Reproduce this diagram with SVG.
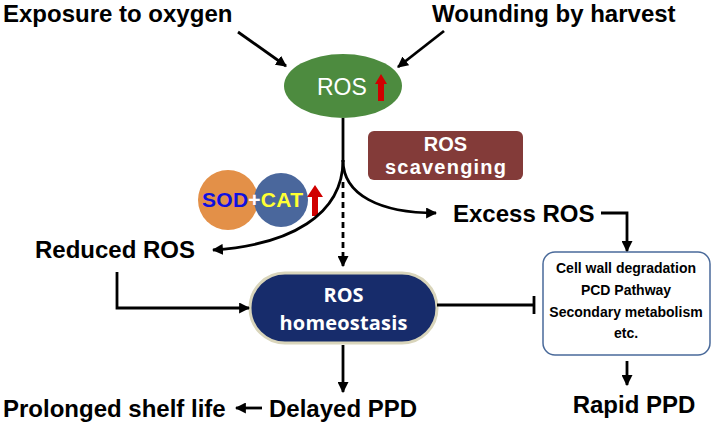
<svg xmlns="http://www.w3.org/2000/svg" width="712" height="426" viewBox="0 0 712 426">
<style>
.t{font-family:"Liberation Sans",Arial,sans-serif;font-weight:bold;fill:#000}
.big{font-size:24px}
.box{font-size:14px;text-anchor:middle}
.ln{fill:none;stroke:#000;stroke-width:2.8}
.wt{fill:#fff}
</style>
<defs>
<marker id="ah" markerWidth="11" markerHeight="11" viewBox="0 0 10 10" refX="9" refY="5" orient="auto" markerUnits="userSpaceOnUse">
<path d="M0,0 L10,5 L0,10 Z" fill="#000"/>
</marker>
</defs>

<g id="exposure"><text class="t big" x="3" y="22">Exposure to oxygen</text></g>
<g id="wounding"><text class="t big" x="432" y="22">Wounding by harvest</text></g>

<g id="ros">
<ellipse cx="343" cy="86" rx="59" ry="32" fill="#4d8b3f"/>
<text x="317" y="95" font-family="Liberation Sans,Arial,sans-serif" font-size="23" fill="#fff">ROS</text>
<path d="M378,101 L378,84 L375,84 L381,74 L387,84 L384,84 L384,101 Z" fill="#d00000"/>
</g>

<g id="scavenging">
<rect x="368" y="131" width="155" height="49" rx="6" fill="#833b39"/>
<text class="t wt" x="445.5" y="151" font-size="20" text-anchor="middle">ROS</text>
<text class="t wt" x="445.5" y="174" font-size="20" text-anchor="middle" textLength="121">scavenging</text>
</g>

<g id="sodcat">
<circle cx="228" cy="200" r="30" fill="#e39048"/>
<circle cx="281" cy="200" r="27" fill="#4a679c"/>
<text class="t" x="202" y="207" font-size="21" textLength="101"><tspan fill="#1010e0">SOD</tspan><tspan fill="#fff">+</tspan><tspan fill="#ffff33">CAT</tspan></text>
<path d="M312,216 L312,197 L307,197 L315,185 L323,197 L318,197 L318,216 Z" fill="#d00000"/>
</g>

<g id="excess"><text class="t big" x="453" y="222">Excess ROS</text></g>
<g id="reduced"><text class="t big" x="35" y="258">Reduced ROS</text></g>

<g id="homeostasis">
<rect x="250" y="273" width="187" height="70" rx="35" fill="#172c6b" stroke="#d9d5bb" stroke-width="3"/>
<text x="343.5" y="302" font-family="Open Sans,Liberation Sans,sans-serif" font-weight="bold" font-size="20" fill="#fff" text-anchor="middle">ROS</text>
<text x="343.5" y="330" font-family="Open Sans,Liberation Sans,sans-serif" font-weight="bold" font-size="20" fill="#fff" text-anchor="middle" textLength="128">homeostasis</text>
</g>

<g id="effects">
<rect x="543" y="252" width="167" height="103" rx="12" fill="#fff" stroke="#4a6a9a" stroke-width="1.5"/>
<text class="t box" x="626" y="273">Cell wall degradation</text>
<text class="t box" x="626" y="295">PCD Pathway</text>
<text class="t box" x="626" y="317">Secondary metabolism</text>
<text class="t box" x="626" y="338">etc.</text>
</g>

<g id="rapid"><text class="t big" x="634" y="413" text-anchor="middle">Rapid PPD</text></g>
<g id="delayed"><text class="t big" x="269" y="417">Delayed PPD</text></g>
<g id="prolonged"><text class="t big" x="3" y="417">Prolonged shelf life</text></g>

<g id="connectors">
<line class="ln" x1="238" y1="32" x2="286" y2="66" marker-end="url(#ah)"/>
<line class="ln" x1="444" y1="31" x2="398" y2="67" marker-end="url(#ah)"/>
<path class="ln" d="M343,118 V162"/>
<path class="ln" d="M343,160 C343,215 290,245 213,250" marker-end="url(#ah)"/>
<path class="ln" d="M343,160 C343,195 380,213 436,213" marker-end="url(#ah)"/>
<path class="ln" d="M343,182 V266" stroke-width="2.5" stroke-dasharray="6,4" marker-end="url(#ah)"/>
<path class="ln" d="M117,272 V308 H249" marker-end="url(#ah)"/>
<path class="ln" d="M437,305 H534"/>
<path class="ln" d="M534,296 V314"/>
<path class="ln" d="M601,213 H627 V251" marker-end="url(#ah)"/>
<path class="ln" d="M627,361 V385" marker-end="url(#ah)"/>
<path class="ln" d="M343,345 V392" marker-end="url(#ah)"/>
<path class="ln" d="M262,408 H236" marker-end="url(#ah)"/>
</g>
</svg>
